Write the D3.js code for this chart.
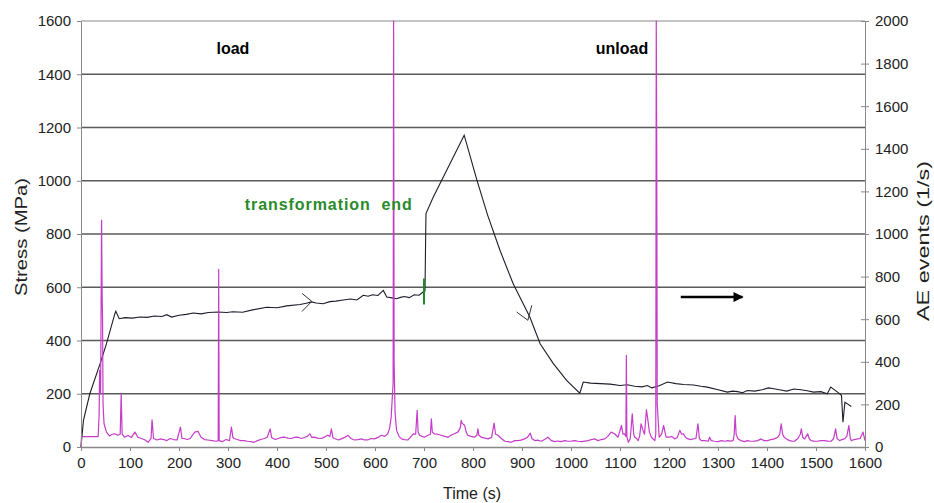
<!DOCTYPE html>
<html lang="en">
<head>
<meta charset="utf-8"/>
<title>Stress and AE events</title>
<script src="https://d3js.org/d3.v7.min.js"></script>
<style>
  body { margin: 0; background: #fff; }
  text { font-family: "Liberation Sans", Arial, sans-serif; }
  .axis text { font-size: 15px; fill: #222; }
  .axis path, .axis line { stroke: #888; }
  .grid line { stroke: #5a5a5a; stroke-width: 1.4px; }
</style>
</head>
<body>
<svg id="chart" width="934" height="503"></svg>
<script>
// stress curve (s, MPa)
var stressTime = [0, 5, 18, 39, 52, 69, 71, 78, 90, 105, 120, 135, 150, 165, 175, 185, 200, 215, 229, 245,
  260, 280, 297, 310, 330, 350, 379, 400, 420, 447, 460, 470, 480, 494, 508, 520, 535, 550, 563, 576,
  586, 595, 606, 617, 624, 635, 644, 652, 660, 670, 680, 690, 698, 702, 704, 719, 782, 808, 830,
  855, 882, 916, 937, 964, 991, 1018, 1025, 1040, 1060, 1080, 1100, 1115, 1130, 1145, 1156, 1165, 1180, 1197, 1214, 1230,
  1250, 1265, 1278, 1300, 1319, 1330, 1340, 1350, 1360, 1375, 1390, 1403, 1414, 1428, 1440, 1455, 1469, 1482, 1495, 1510,
  1523, 1530, 1544, 1552, 1555, 1559, 1565, 1572];
var stressValue = [0, 100, 200, 313, 388, 500, 510, 482, 486, 484, 488, 487, 492, 490, 497, 488, 495, 498, 503, 500,
  505, 507, 505, 508, 506, 515, 525, 523, 530, 535, 540, 545, 541, 538, 546, 548, 552, 556, 552, 570,
  566, 572, 569, 588, 563, 560, 557, 562, 565, 561, 572, 570, 582, 585, 877, 939, 1171, 1002, 870,
  739, 613, 488, 388, 313, 250, 202, 244, 240, 238, 236, 231, 234, 228, 226, 231, 222, 230, 244, 238, 235,
  233, 228, 225, 215, 206, 210, 208, 204, 212, 210, 215, 222, 219, 214, 210, 218, 215, 211, 206, 208,
  200, 225, 206, 194, 93, 168, 161, 152];

// acoustic emission (s, events per s)
var aeTime = [0, 1, 35, 37, 38, 40, 42, 43, 44, 45, 47, 52, 58, 64, 69, 75, 80, 82, 84, 89,
  96, 103, 110, 116, 123, 130, 137, 143, 145, 148, 155, 162, 169, 175, 182, 189, 196, 203, 206, 210,
  217, 223, 232, 239, 245, 252, 259, 267, 276, 280, 281, 282, 288, 296, 303, 307, 310, 312, 319, 326,
  333, 340, 347, 353, 360, 367, 374, 380, 386, 389, 392, 397, 402, 409, 416, 422, 429, 436, 443, 450,
  457, 462, 467, 471, 476, 483, 490, 496, 503, 508, 511, 514, 517, 526, 531, 538, 545, 551, 558, 565,
  572, 578, 585, 592, 599, 606, 613, 620, 626, 630, 633, 637, 638, 639, 641, 644, 649, 654, 660, 667,
  672, 678, 683, 686, 688, 691, 696, 701, 708, 713, 715, 717, 721, 728, 735, 742, 749, 755, 762, 769,
  774, 776, 778, 783, 786, 789, 796, 803, 808, 810, 812, 817, 824, 831, 838, 843, 846, 851, 858, 865,
  871, 878, 885, 892, 898, 905, 911, 917, 920, 926, 932, 939, 946, 953, 960, 967, 973, 980, 987, 994,
  1001, 1008, 1014, 1021, 1028, 1035, 1042, 1049, 1055, 1062, 1069, 1075, 1082, 1089, 1096, 1103, 1106, 1109, 1112, 1113,
  1114, 1117, 1121, 1125, 1128, 1130, 1134, 1137, 1140, 1143, 1147, 1150, 1154, 1157, 1160, 1164, 1171, 1173, 1174, 1175,
  1176, 1180, 1185, 1189, 1194, 1201, 1206, 1211, 1217, 1222, 1226, 1229, 1234, 1239, 1245, 1249, 1255, 1259, 1262, 1266,
  1273, 1280, 1283, 1286, 1293, 1300, 1307, 1314, 1320, 1325, 1331, 1333, 1335, 1337, 1341, 1347, 1354, 1360, 1367, 1374,
  1381, 1388, 1394, 1401, 1408, 1415, 1422, 1426, 1429, 1432, 1435, 1440, 1446, 1451, 1456, 1463, 1468, 1470, 1473, 1477,
  1483, 1486, 1490, 1496, 1503, 1510, 1517, 1524, 1531, 1536, 1540, 1543, 1548, 1553, 1558, 1563, 1567, 1570, 1572, 1578,
  1585, 1590, 1594, 1596, 1600];
var aeValue = [0, 49, 49, 150, 360, 250, 1065, 740, 590, 200, 109, 70, 52, 60, 62, 55, 60, 250, 60, 46,
  54, 45, 70, 46, 40, 34, 22, 40, 128, 40, 33, 38, 35, 30, 40, 35, 33, 93, 40, 40,
  35, 40, 70, 73, 46, 35, 33, 30, 27, 30, 834, 30, 25, 35, 30, 93, 45, 40, 35, 30,
  30, 27, 25, 22, 30, 35, 40, 46, 85, 45, 40, 35, 40, 45, 46, 42, 40, 45, 46, 40,
  46, 50, 62, 45, 46, 42, 40, 45, 55, 50, 85, 45, 40, 33, 38, 45, 55, 40, 33, 35,
  38, 33, 33, 40, 38, 45, 55, 50, 62, 90, 140, 300, 2000, 400, 160, 78, 50, 38, 35, 33,
  45, 62, 60, 172, 70, 55, 50, 46, 55, 60, 132, 70, 62, 60, 55, 50, 46, 55, 62, 70,
  90, 125, 110, 102, 70, 55, 50, 46, 55, 85, 55, 46, 42, 38, 45, 112, 60, 55, 40, 27,
  25, 22, 30, 30, 32, 38, 45, 65, 40, 30, 32, 27, 35, 46, 30, 25, 28, 25, 30, 27,
  28, 30, 27, 25, 28, 30, 35, 38, 30, 35, 38, 50, 70, 62, 46, 101, 60, 62, 50, 430,
  50, 22, 40, 156, 60, 46, 40, 30, 50, 109, 78, 60, 175, 125, 70, 46, 30, 60, 2000, 1390,
  200, 46, 60, 101, 46, 46, 50, 38, 45, 78, 60, 62, 45, 38, 35, 38, 40, 109, 40, 30,
  30, 27, 46, 30, 27, 25, 30, 27, 30, 28, 30, 60, 148, 60, 38, 30, 25, 30, 27, 28,
  30, 38, 30, 30, 35, 38, 46, 60, 109, 60, 46, 38, 30, 28, 27, 40, 60, 85, 45, 38,
  62, 40, 30, 28, 27, 30, 30, 28, 27, 40, 85, 40, 30, 35, 38, 50, 101, 40, 30, 35,
  38, 40, 60, 70, 30];

var timeTicks = d3.range(0, 1601, 100);
var stressTicks = d3.range(0, 1601, 200);
var aeTicks = d3.range(0, 2001, 200);

// annotation positions in data units
var loadArrow = [[451, 577], [471, 547], [451, 509]];
var unloadArrow = [[889, 507], [912, 476], [920, 532]];
var timeArrow = [[1224, 563], [1350, 563]];

var svg = d3.select("#chart"),
    margin = {top: 21, right: 69, bottom: 56, left: 81},
    width = +svg.attr("width") - margin.left - margin.right,
    height = +svg.attr("height") - margin.top - margin.bottom,
    g = svg.append("g").attr("transform", "translate(" + margin.left + "," + margin.top + ")");

var x = d3.scaleLinear().domain([0, 1600]).range([0, width]);
var y = d3.scaleLinear().domain([0, 1600]).range([height, 0]);
var y2 = d3.scaleLinear().domain([0, 2000]).range([height, 0]);

// horizontal grid
g.append("g")
    .attr("class", "grid")
  .selectAll("line")
  .data(stressTicks.slice(1))
  .enter().append("line")
    .attr("x1", 0)
    .attr("x2", width)
    .attr("y1", function(d) { return y(d); })
    .attr("y2", function(d) { return y(d); })
    .style("stroke", function(d) { return d === 1600 ? "#b0b0b0" : null; });

var stressLine = d3.line()
    .x(function(d, i) { return x(stressTime[i]); })
    .y(function(d) { return y(d); });

var aeLine = d3.line()
    .x(function(d, i) { return x(aeTime[i]); })
    .y(function(d) { return y2(d); });

g.append("path")
    .datum(stressValue)
    .attr("fill", "none")
    .attr("stroke", "#1c1c2c")
    .attr("stroke-width", 1.1)
    .attr("d", stressLine);

g.append("path")
    .datum(aeValue)
    .attr("fill", "none")
    .attr("stroke", "#c43cc8")
    .attr("stroke-width", 1.2)
    .attr("stroke-linejoin", "round")
    .attr("d", aeLine);

// transformation end marker
g.append("line")
    .attr("x1", x(700)).attr("x2", x(700))
    .attr("y1", y(535)).attr("y2", y(633))
    .attr("stroke", "#1f8a2a")
    .attr("stroke-width", 2);

var pt = d3.line()
    .x(function(d) { return x(d[0]); })
    .y(function(d) { return y(d[1]); });

g.append("path").datum(loadArrow).attr("d", pt)
    .attr("fill", "none").attr("stroke", "#333").attr("stroke-width", 1);
g.append("path").datum(unloadArrow).attr("d", pt)
    .attr("fill", "none").attr("stroke", "#333").attr("stroke-width", 1);

svg.append("defs").append("marker")
    .attr("id", "head")
    .attr("viewBox", "0 0 10 10")
    .attr("refX", 9).attr("refY", 5)
    .attr("markerWidth", 5).attr("markerHeight", 4)
    .attr("markerUnits", "strokeWidth")
    .attr("orient", "auto")
  .append("path")
    .attr("d", "M0,0L10,5L0,10z")
    .attr("fill", "#000");

g.append("path").datum(timeArrow).attr("d", pt)
    .attr("stroke", "#000").attr("stroke-width", 2.5)
    .attr("marker-end", "url(#head)");

// axes
var fmt = d3.format("d");

g.append("g")
    .attr("class", "axis")
    .attr("transform", "translate(0," + height + ")")
    .call(d3.axisBottom(x).tickValues(timeTicks).tickFormat(fmt).tickSize(4).tickPadding(6).tickSizeOuter(0))
    .call(function(a) { a.select(".domain").attr("stroke", "#555").attr("stroke-width", 1.4); });

g.append("g")
    .attr("class", "axis")
    .call(d3.axisLeft(y).tickValues(stressTicks).tickFormat(fmt).tickSize(4).tickPadding(6).tickSizeOuter(0));

g.append("g")
    .attr("class", "axis")
    .attr("transform", "translate(" + width + ",0)")
    .call(d3.axisRight(y2).tickValues(aeTicks).tickFormat(fmt).tickSize(4).tickPadding(6).tickSizeOuter(0))
    .call(function(a) { a.selectAll(".tick line").attr("x1", -4); });

// labels
svg.append("text")
    .attr("transform", "translate(27,237) rotate(-90)")
    .attr("text-anchor", "middle")
    .attr("font-size", 17)
    .attr("fill", "#222")
    .attr("textLength", 118)
    .attr("lengthAdjust", "spacingAndGlyphs")
    .text("Stress (MPa)");

svg.append("text")
    .attr("transform", "translate(929,241) rotate(-90)")
    .attr("text-anchor", "middle")
    .attr("font-size", 17)
    .attr("fill", "#222")
    .attr("textLength", 160)
    .attr("lengthAdjust", "spacingAndGlyphs")
    .text("AE events (1/s)");

svg.append("text")
    .attr("x", margin.left + x(800) - 1)
    .attr("y", 499)
    .attr("text-anchor", "middle")
    .attr("font-size", 16)
    .attr("fill", "#222")
    .text("Time (s)");

g.append("text")
    .attr("x", x(310)).attr("y", y(1475))
    .attr("text-anchor", "middle")
    .attr("font-size", 16).attr("font-weight", "bold")
    .text("load");

g.append("text")
    .attr("x", x(1104)).attr("y", y(1475))
    .attr("text-anchor", "middle")
    .attr("font-size", 16).attr("font-weight", "bold")
    .text("unload");

g.append("text")
    .attr("x", x(675)).attr("y", y(889))
    .attr("text-anchor", "end")
    .attr("font-size", 16).attr("font-weight", "bold")
    .attr("fill", "#2a8a2a")
    .attr("textLength", 167)
    .attr("lengthAdjust", "spacing")
    .style("white-space", "pre")
    .text("transformation  end");
</script>
</body>
</html>
